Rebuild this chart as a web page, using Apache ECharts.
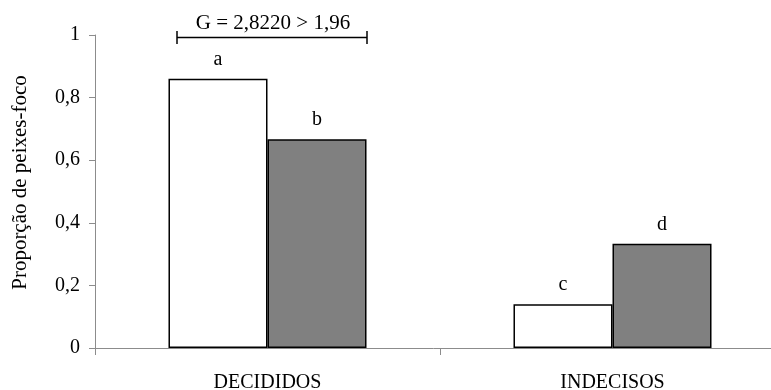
<!DOCTYPE html>
<html>
<head>
<meta charset="utf-8">
<script src="https://cdn.jsdelivr.net/npm/echarts@6/dist/echarts.min.js"></script>
<style>
  html, body { margin: 0; padding: 0; background: #fff; }
  #chart { width: 771px; height: 390px; }
</style>
</head>
<body>
<div id="chart"></div>
<script>
// Groups and proportions of focal fish per group
const categories = ['DECIDIDOS', 'INDECISOS'];
const whiteValues = [0.86, 0.14];
const grayValues = [0.667, 0.333];
const whiteLetters = ['a', 'c'];
const grayLetters = ['b', 'd'];
const yTicks = [0, 0.2, 0.4, 0.6, 0.8, 1];
const yTitle = 'Proporção de peixes-foco';
const testText = 'G = 2,8220 > 1,96';

const FONT = 'Liberation Serif';
const AXIS_GRAY = '#8c8c8c';

function tickLabel(v) {
  const s = String(Math.round(v * 10) / 10);
  return s.replace('.', ',');
}

function letterLabel(letters) {
  return {
    show: true,
    position: 'top',
    distance: 9,
    fontFamily: FONT,
    fontSize: 20,
    color: '#000',
    formatter: p => letters[p.dataIndex]
  };
}

const chart = echarts.init(document.getElementById('chart'), null, { renderer: 'canvas' });

chart.setOption({
  animation: false,
  backgroundColor: '#fff',
  grid: {
    left: 95, right: -14, top: 35, bottom: 42,
    containLabel: false,
    outerBoundsMode: 'none'
  },
  xAxis: {
    type: 'category',
    data: categories,
    boundaryGap: true,
    axisLine: { lineStyle: { color: AXIS_GRAY, width: 1 } },
    axisTick: { show: true, length: 7, lineStyle: { color: AXIS_GRAY } },
    axisLabel: { margin: 25, fontFamily: FONT, fontSize: 20, color: '#000' },
    splitLine: { show: false }
  },
  yAxis: {
    type: 'value',
    min: yTicks[0],
    max: yTicks[yTicks.length - 1],
    interval: 0.2,
    name: yTitle,
    nameLocation: 'middle',
    nameGap: 64,
    nameTextStyle: { fontFamily: FONT, fontSize: 21, color: '#000', padding: [0, 0, 0, 18] },
    axisLine: { show: true, lineStyle: { color: AXIS_GRAY, width: 1 } },
    axisTick: { show: true, length: 6, lineStyle: { color: AXIS_GRAY } },
    axisLabel: { margin: 15, fontFamily: FONT, fontSize: 20, color: '#000', formatter: tickLabel },
    splitLine: { show: false }
  },
  series: [
    {
      type: 'bar',
      data: whiteValues,
      barGap: '0%',
      barCategoryGap: '42.6%',
      itemStyle: { color: '#ffffff', borderColor: '#000', borderWidth: 1.5 },
      label: letterLabel(whiteLetters)
    },
    {
      type: 'bar',
      data: grayValues,
      itemStyle: { color: '#808080', borderColor: '#000', borderWidth: 1.5 },
      label: letterLabel(grayLetters)
    }
  ],
  graphic: [
    {
      type: 'group',
      children: [
        { type: 'line', shape: { x1: 177, y1: 37.5, x2: 367, y2: 37.5 }, style: { stroke: '#000', lineWidth: 1.5 } },
        { type: 'line', shape: { x1: 177, y1: 31, x2: 177, y2: 44 }, style: { stroke: '#000', lineWidth: 1.5 } },
        { type: 'line', shape: { x1: 367, y1: 31, x2: 367, y2: 44 }, style: { stroke: '#000', lineWidth: 1.5 } },
        {
          type: 'text',
          x: 273, y: 23,
          style: {
            text: testText,
            fontFamily: FONT, fontSize: 21, fill: '#000',
            align: 'center', verticalAlign: 'middle'
          }
        }
      ]
    }
  ]
});
</script>
</body>
</html>
